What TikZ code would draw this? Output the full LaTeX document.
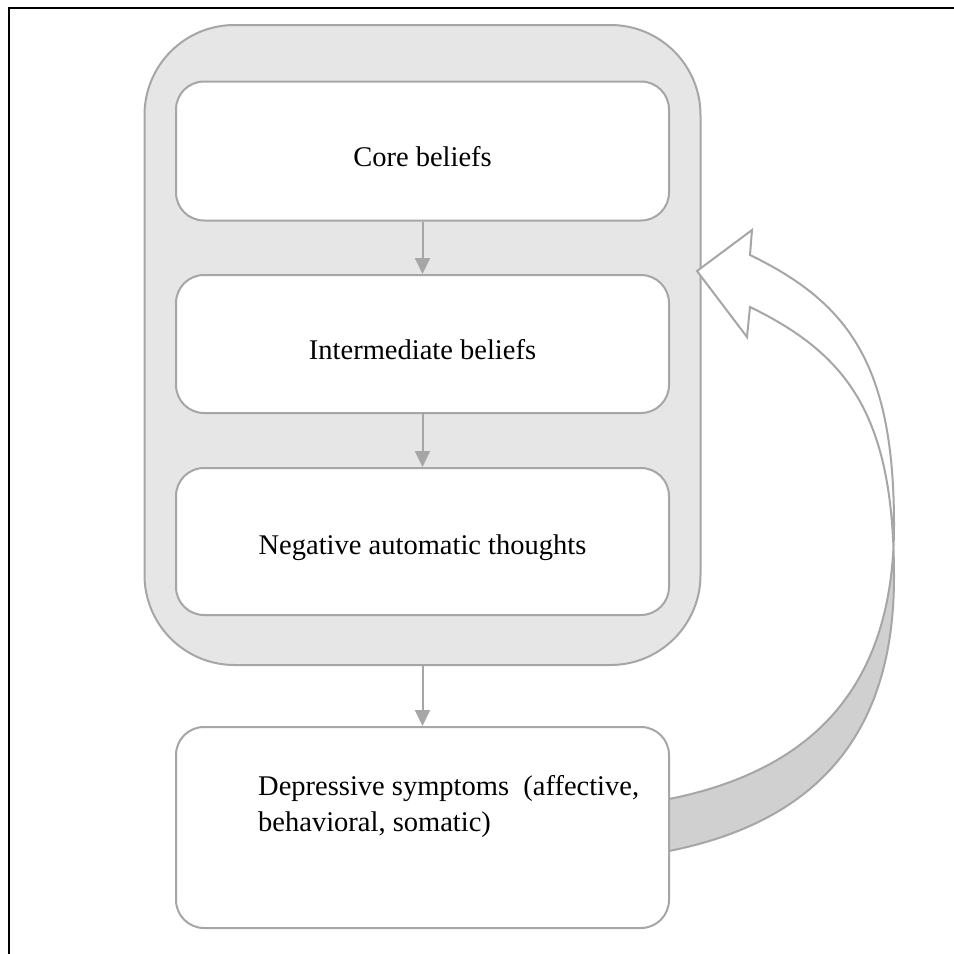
\documentclass[tikz,border=0pt]{standalone}
\usepackage{fontspec}
\setmainfont{Liberation Serif}
\usetikzlibrary{arrows.meta}
\definecolor{edgegray}{HTML}{A6A6A6}
\definecolor{panelgray}{HTML}{E6E6E6}
\definecolor{bandgray}{HTML}{D0D0D0}
\newcommand{\lowered}[1]{\raisebox{-6pt}[\height][\depth]{#1}}
\begin{document}
\begin{tikzpicture}[x=1pt,y=-1pt,
  box/.style={draw=edgegray, line width=2pt, fill=white, rounded corners=28pt,
    minimum width=493pt, inner sep=0pt, font=\fontsize{28.5}{36}\selectfont},
  panel/.style={draw=edgegray, line width=2pt, fill=panelgray, rounded corners=90pt},
  link/.style={draw=edgegray, line width=2pt, -{Triangle[width=15pt,length=16pt]}},
  bendline/.style={draw=edgegray, line width=2pt, line join=miter},
  label/.style={font=\fontsize{28.5}{36}\selectfont, inner sep=0pt}]
\useasboundingbox (0,0) rectangle (954,954);
\clip (0,0) rectangle (954,954);
\draw[line width=2.5pt] (9,980) -- (9,8) -- (980,8);

\node[panel, minimum width=556pt, minimum height=640pt] (grp) at (422.5,345) {};
\node[box, minimum height=139pt] (core) at (422.5,151) {\lowered{Core beliefs}};
\node[box, minimum height=138pt] (inter) at (422.5,344) {\lowered{Intermediate beliefs}};
\node[box, minimum height=147pt] (nat) at (422.5,541.5) {\lowered{Negative automatic thoughts}};

% curved block arrow
\fill[white] (669,799) .. controls (809,771) and (894,690) .. (894,525)
  .. controls (894,365) and (849,303) .. (750,255) -- (752,230) -- (697,271)
  -- (747,337) -- (750,307) .. controls (849,355) and (894,417) .. (894,577)
  .. controls (894,742) and (809,823) .. (669,851) -- cycle;
\begin{scope}
\clip (600,551) rectangle (954,954);
\fill[bandgray] (669,799) .. controls (809,771) and (894,690) .. (894,525)
  -- (894,577) .. controls (894,742) and (809,823) .. (669,851) -- cycle;
\end{scope}
\draw[bendline] (669,799) .. controls (809,771) and (894,690) .. (894,525)
  .. controls (894,365) and (849,303) .. (750,255) -- (752,230) -- (697,271)
  -- (747,337) -- (750,307) .. controls (849,355) and (894,417) .. (894,577)
  .. controls (894,742) and (809,823) .. (669,851);

\node[box, minimum height=201pt] (dep) at (422.5,827.5) {};
\node[label, align=left, anchor=west] (deptext) at (258,806)
  {Depressive symptoms\ \ (affective,\\behavioral, somatic)};

\draw[link] (core) -- (inter);
\draw[link] (inter) -- (nat);
\draw[link] (grp.south) -- (dep.north);
\end{tikzpicture}
\end{document}
